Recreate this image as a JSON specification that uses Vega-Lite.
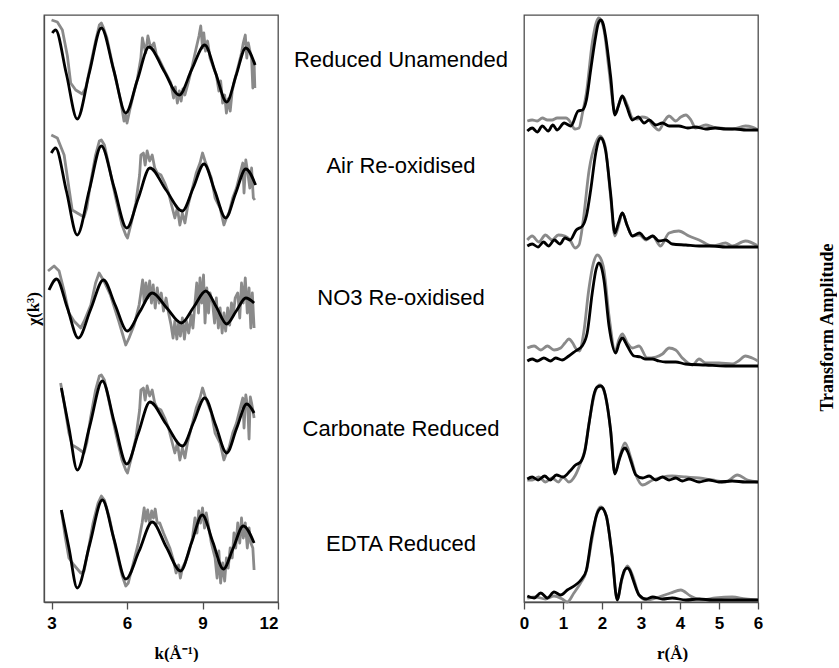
{
"$schema": "https://vega.github.io/schema/vega-lite/v6.json",
"padding": {"left": 23, "top": 11, "right": 0, "bottom": 0},
"autosize": {"type": "pad"},
"spacing": 0,
"bounds": "flush",
"config": {
 "view": {"stroke": "#4d4d4d", "strokeWidth": 1.3},
 "axis": {"domainColor": "#4d4d4d", "domainWidth": 1.3, "tickColor": "#4d4d4d", "tickWidth": 1.3, "grid": false, "labelFont": "Liberation Sans", "labelFontWeight": "bold", "labelFontSize": 17, "labelColor": "#000", "labelOverlap": false, "titleFont": "Liberation Serif", "titleFontWeight": "bold", "titleFontSize": 17, "titleColor": "#000"}
},
"datasets": {
"kf": [
{"s":1,"k":3.03,"y":56.9},{"s":1,"k":3.16,"y":57.2},{"s":1,"k":3.59,"y":52.8},{"s":1,"k":4.02,"y":48.3},{"s":1,"k":4.5,"y":52.9},{"s":1,"k":4.98,"y":57.4},{"s":1,"k":5.47,"y":53.2},{"s":1,"k":5.95,"y":48.9},{"s":1,"k":6.41,"y":52.2},{"s":1,"k":6.87,"y":55.5},{"s":1,"k":7.47,"y":53.1},{"s":1,"k":8.07,"y":50.7},{"s":1,"k":8.58,"y":53.3},{"s":1,"k":9.09,"y":55.7},{"s":1,"k":9.52,"y":52.9},{"s":1,"k":9.96,"y":50.0},{"s":1,"k":10.34,"y":52.7},{"s":1,"k":10.72,"y":55.4},{"s":1,"k":11.09,"y":53.7},
{"s":2,"k":2.99,"y":44.9},{"s":2,"k":3.16,"y":45.4},{"s":2,"k":3.59,"y":41.1},{"s":2,"k":4.02,"y":36.7},{"s":2,"k":4.5,"y":41.2},{"s":2,"k":4.98,"y":45.6},{"s":2,"k":5.48,"y":41.5},{"s":2,"k":5.99,"y":37.4},{"s":2,"k":6.45,"y":40.4},{"s":2,"k":6.91,"y":43.4},{"s":2,"k":7.55,"y":41.2},{"s":2,"k":8.2,"y":39.1},{"s":2,"k":8.63,"y":41.4},{"s":2,"k":9.06,"y":43.8},{"s":2,"k":9.49,"y":41.1},{"s":2,"k":9.92,"y":38.4},{"s":2,"k":10.32,"y":40.9},{"s":2,"k":10.72,"y":43.3},{"s":2,"k":11.11,"y":41.7},
{"s":3,"k":2.9,"y":31.2},{"s":3,"k":3.2,"y":32.3},{"s":3,"k":3.63,"y":29.4},{"s":3,"k":4.06,"y":26.4},{"s":3,"k":4.56,"y":29.3},{"s":3,"k":5.06,"y":32.2},{"s":3,"k":5.53,"y":29.7},{"s":3,"k":6.01,"y":27.1},{"s":3,"k":6.5,"y":29.0},{"s":3,"k":7.0,"y":30.9},{"s":3,"k":7.58,"y":29.4},{"s":3,"k":8.16,"y":27.9},{"s":3,"k":8.65,"y":29.5},{"s":3,"k":9.13,"y":31.1},{"s":3,"k":9.55,"y":29.5},{"s":3,"k":9.96,"y":27.8},{"s":3,"k":10.34,"y":29.1},{"s":3,"k":10.72,"y":30.4},{"s":3,"k":11.05,"y":29.9},
{"s":4,"k":3.39,"y":21.4},{"s":4,"k":3.7,"y":17.3},{"s":4,"k":4.02,"y":13.2},{"s":4,"k":4.52,"y":17.6},{"s":4,"k":5.02,"y":22.1},{"s":4,"k":5.5,"y":17.9},{"s":4,"k":5.99,"y":13.8},{"s":4,"k":6.45,"y":16.9},{"s":4,"k":6.91,"y":20.0},{"s":4,"k":7.55,"y":17.8},{"s":4,"k":8.2,"y":15.6},{"s":4,"k":8.65,"y":18.0},{"s":4,"k":9.09,"y":20.4},{"s":4,"k":9.52,"y":17.7},{"s":4,"k":9.96,"y":14.9},{"s":4,"k":10.36,"y":17.4},{"s":4,"k":10.76,"y":19.8},{"s":4,"k":11.05,"y":18.9},
{"s":5,"k":3.39,"y":9.2},{"s":5,"k":3.7,"y":5.3},{"s":5,"k":4.02,"y":1.4},{"s":5,"k":4.52,"y":5.8},{"s":5,"k":5.02,"y":10.2},{"s":5,"k":5.48,"y":6.3},{"s":5,"k":5.95,"y":2.3},{"s":5,"k":6.48,"y":5.1},{"s":5,"k":7.0,"y":8.0},{"s":5,"k":7.56,"y":5.5},{"s":5,"k":8.13,"y":3.1},{"s":5,"k":8.56,"y":5.9},{"s":5,"k":8.99,"y":8.7},{"s":5,"k":9.41,"y":6.0},{"s":5,"k":9.83,"y":3.3},{"s":5,"k":10.22,"y":5.4},{"s":5,"k":10.62,"y":7.6},{"s":5,"k":11.05,"y":5.9}
],
"kd": [
{"s":1,"k":3.0,"y":58.2},{"s":1,"k":3.23,"y":58.0},{"s":1,"k":3.43,"y":57.2},{"s":1,"k":3.63,"y":54.6},{"s":1,"k":3.76,"y":51.9},{"s":1,"k":3.96,"y":51.2},{"s":1,"k":4.22,"y":50.8},{"s":1,"k":4.36,"y":51.4},{"s":1,"k":4.5,"y":53.1},{"s":1,"k":4.75,"y":56.1},{"s":1,"k":4.9,"y":57.7},{"s":1,"k":4.98,"y":57.9},{"s":1,"k":5.05,"y":57.5},{"s":1,"k":5.2,"y":56.4},{"s":1,"k":5.47,"y":53.2},{"s":1,"k":5.75,"y":50.1},{"s":1,"k":5.88,"y":48.1},{"s":1,"k":5.95,"y":48.7},{"s":1,"k":6.0,"y":47.9},{"s":1,"k":6.1,"y":49.1},{"s":1,"k":6.25,"y":50.7},{"s":1,"k":6.41,"y":52.3},{"s":1,"k":6.55,"y":54.4},{"s":1,"k":6.61,"y":56.4},{"s":1,"k":6.74,"y":54.9},{"s":1,"k":6.83,"y":56.6},{"s":1,"k":6.94,"y":55.4},{"s":1,"k":7.07,"y":55.9},{"s":1,"k":7.17,"y":54.7},{"s":1,"k":7.27,"y":54.3},{"s":1,"k":7.5,"y":53.1},{"s":1,"k":7.74,"y":51.9},{"s":1,"k":7.85,"y":50.4},{"s":1,"k":7.92,"y":51.5},{"s":1,"k":8.0,"y":49.9},{"s":1,"k":8.08,"y":51.1},{"s":1,"k":8.15,"y":50.1},{"s":1,"k":8.22,"y":51.3},{"s":1,"k":8.3,"y":50.7},{"s":1,"k":8.45,"y":52.1},{"s":1,"k":8.6,"y":53.7},{"s":1,"k":8.75,"y":55.4},{"s":1,"k":8.86,"y":56.6},{"s":1,"k":8.93,"y":57.6},{"s":1,"k":9.0,"y":55.4},{"s":1,"k":9.05,"y":56.9},{"s":1,"k":9.12,"y":55.1},{"s":1,"k":9.2,"y":56.1},{"s":1,"k":9.3,"y":54.4},{"s":1,"k":9.4,"y":53.7},{"s":1,"k":9.55,"y":52.7},{"s":1,"k":9.65,"y":51.1},{"s":1,"k":9.72,"y":52.1},{"s":1,"k":9.8,"y":49.9},{"s":1,"k":9.88,"y":50.7},{"s":1,"k":9.95,"y":48.9},{"s":1,"k":10.02,"y":50.3},{"s":1,"k":10.1,"y":49.1},{"s":1,"k":10.18,"y":51.1},{"s":1,"k":10.3,"y":52.4},{"s":1,"k":10.45,"y":53.9},{"s":1,"k":10.55,"y":54.9},{"s":1,"k":10.62,"y":55.9},{"s":1,"k":10.7,"y":56.7},{"s":1,"k":10.76,"y":54.4},{"s":1,"k":10.82,"y":55.9},{"s":1,"k":10.9,"y":54.9},{"s":1,"k":10.95,"y":54.4},{"s":1,"k":11.0,"y":51.4},{"s":1,"k":11.05,"y":53.9},{"s":1,"k":11.08,"y":51.4},
{"s":2,"k":2.99,"y":46.7},{"s":2,"k":3.23,"y":46.4},{"s":2,"k":3.5,"y":44.7},{"s":2,"k":3.69,"y":41.4},{"s":2,"k":3.82,"y":39.2},{"s":2,"k":4.02,"y":38.9},{"s":2,"k":4.29,"y":38.5},{"s":2,"k":4.4,"y":39.4},{"s":2,"k":4.55,"y":41.9},{"s":2,"k":4.75,"y":44.7},{"s":2,"k":4.9,"y":46.1},{"s":2,"k":4.98,"y":46.2},{"s":2,"k":5.1,"y":45.7},{"s":2,"k":5.3,"y":43.4},{"s":2,"k":5.55,"y":40.4},{"s":2,"k":5.8,"y":37.7},{"s":2,"k":5.95,"y":36.7},{"s":2,"k":6.02,"y":36.4},{"s":2,"k":6.15,"y":37.7},{"s":2,"k":6.35,"y":39.9},{"s":2,"k":6.5,"y":42.7},{"s":2,"k":6.55,"y":44.7},{"s":2,"k":6.65,"y":44.9},{"s":2,"k":6.72,"y":43.7},{"s":2,"k":6.8,"y":45.1},{"s":2,"k":6.9,"y":44.1},{"s":2,"k":7.0,"y":44.7},{"s":2,"k":7.1,"y":43.4},{"s":2,"k":7.2,"y":42.9},{"s":2,"k":7.35,"y":42.7},{"s":2,"k":7.5,"y":41.9},{"s":2,"k":7.65,"y":40.9},{"s":2,"k":7.8,"y":39.4},{"s":2,"k":7.9,"y":38.4},{"s":2,"k":8.0,"y":39.4},{"s":2,"k":8.1,"y":37.7},{"s":2,"k":8.2,"y":38.9},{"s":2,"k":8.3,"y":37.9},{"s":2,"k":8.4,"y":39.4},{"s":2,"k":8.55,"y":40.9},{"s":2,"k":8.75,"y":42.9},{"s":2,"k":8.9,"y":43.9},{"s":2,"k":9.0,"y":44.9},{"s":2,"k":9.1,"y":44.1},{"s":2,"k":9.2,"y":43.4},{"s":2,"k":9.35,"y":42.4},{"s":2,"k":9.5,"y":40.4},{"s":2,"k":9.7,"y":39.4},{"s":2,"k":9.85,"y":37.7},{"s":2,"k":9.95,"y":38.4},{"s":2,"k":10.05,"y":38.9},{"s":2,"k":10.2,"y":40.4},{"s":2,"k":10.35,"y":41.4},{"s":2,"k":10.5,"y":42.9},{"s":2,"k":10.6,"y":43.9},{"s":2,"k":10.65,"y":40.9},{"s":2,"k":10.72,"y":44.2},{"s":2,"k":10.8,"y":42.9},{"s":2,"k":10.88,"y":41.4},{"s":2,"k":10.95,"y":43.4},{"s":2,"k":11.02,"y":40.4},{"s":2,"k":11.08,"y":40.2},
{"s":3,"k":2.86,"y":33.1},{"s":3,"k":3.1,"y":33.6},{"s":3,"k":3.3,"y":33.1},{"s":3,"k":3.5,"y":31.1},{"s":3,"k":3.69,"y":28.9},{"s":3,"k":3.89,"y":28.1},{"s":3,"k":4.16,"y":27.4},{"s":3,"k":4.3,"y":28.1},{"s":3,"k":4.56,"y":29.7},{"s":3,"k":4.75,"y":31.9},{"s":3,"k":4.89,"y":32.9},{"s":3,"k":5.08,"y":32.1},{"s":3,"k":5.34,"y":30.7},{"s":3,"k":5.67,"y":28.1},{"s":3,"k":5.95,"y":25.7},{"s":3,"k":6.08,"y":26.4},{"s":3,"k":6.28,"y":27.7},{"s":3,"k":6.48,"y":29.7},{"s":3,"k":6.55,"y":30.9},{"s":3,"k":6.62,"y":32.2},{"s":3,"k":6.68,"y":29.9},{"s":3,"k":6.75,"y":31.9},{"s":3,"k":6.82,"y":30.4},{"s":3,"k":6.9,"y":32.1},{"s":3,"k":6.97,"y":29.9},{"s":3,"k":7.04,"y":31.7},{"s":3,"k":7.12,"y":29.4},{"s":3,"k":7.2,"y":31.4},{"s":3,"k":7.28,"y":29.9},{"s":3,"k":7.36,"y":30.9},{"s":3,"k":7.45,"y":29.1},{"s":3,"k":7.55,"y":30.4},{"s":3,"k":7.65,"y":28.9},{"s":3,"k":7.75,"y":27.7},{"s":3,"k":7.83,"y":26.4},{"s":3,"k":7.9,"y":28.1},{"s":3,"k":7.98,"y":26.3},{"s":3,"k":8.05,"y":27.9},{"s":3,"k":8.12,"y":26.6},{"s":3,"k":8.2,"y":28.4},{"s":3,"k":8.28,"y":26.3},{"s":3,"k":8.36,"y":28.1},{"s":3,"k":8.45,"y":26.9},{"s":3,"k":8.55,"y":28.7},{"s":3,"k":8.62,"y":27.4},{"s":3,"k":8.7,"y":29.9},{"s":3,"k":8.77,"y":31.9},{"s":3,"k":8.84,"y":28.9},{"s":3,"k":8.9,"y":32.4},{"s":3,"k":8.97,"y":29.9},{"s":3,"k":9.04,"y":32.7},{"s":3,"k":9.1,"y":27.9},{"s":3,"k":9.17,"y":31.4},{"s":3,"k":9.24,"y":28.9},{"s":3,"k":9.3,"y":30.9},{"s":3,"k":9.4,"y":29.9},{"s":3,"k":9.48,"y":27.9},{"s":3,"k":9.55,"y":30.4},{"s":3,"k":9.63,"y":27.4},{"s":3,"k":9.7,"y":29.4},{"s":3,"k":9.78,"y":26.9},{"s":3,"k":9.85,"y":28.9},{"s":3,"k":9.92,"y":27.1},{"s":3,"k":10.0,"y":29.4},{"s":3,"k":10.08,"y":27.7},{"s":3,"k":10.15,"y":29.9},{"s":3,"k":10.22,"y":28.7},{"s":3,"k":10.3,"y":30.4},{"s":3,"k":10.4,"y":30.9},{"s":3,"k":10.48,"y":28.4},{"s":3,"k":10.55,"y":31.9},{"s":3,"k":10.62,"y":29.9},{"s":3,"k":10.7,"y":32.4},{"s":3,"k":10.78,"y":28.9},{"s":3,"k":10.85,"y":31.4},{"s":3,"k":10.92,"y":27.4},{"s":3,"k":10.98,"y":30.9},{"s":3,"k":11.05,"y":27.4},
{"s":4,"k":3.36,"y":21.9},{"s":4,"k":3.5,"y":19.9},{"s":4,"k":3.69,"y":16.9},{"s":4,"k":3.82,"y":15.7},{"s":4,"k":4.02,"y":15.4},{"s":4,"k":4.29,"y":14.9},{"s":4,"k":4.4,"y":15.9},{"s":4,"k":4.55,"y":18.4},{"s":4,"k":4.75,"y":21.2},{"s":4,"k":4.9,"y":22.6},{"s":4,"k":4.98,"y":22.7},{"s":4,"k":5.1,"y":22.2},{"s":4,"k":5.3,"y":19.9},{"s":4,"k":5.55,"y":16.9},{"s":4,"k":5.8,"y":14.2},{"s":4,"k":5.95,"y":13.2},{"s":4,"k":6.02,"y":12.9},{"s":4,"k":6.15,"y":14.2},{"s":4,"k":6.35,"y":16.4},{"s":4,"k":6.5,"y":19.2},{"s":4,"k":6.55,"y":21.2},{"s":4,"k":6.65,"y":21.4},{"s":4,"k":6.72,"y":20.2},{"s":4,"k":6.8,"y":21.6},{"s":4,"k":6.9,"y":20.6},{"s":4,"k":7.0,"y":21.2},{"s":4,"k":7.1,"y":19.9},{"s":4,"k":7.2,"y":19.4},{"s":4,"k":7.35,"y":19.2},{"s":4,"k":7.5,"y":18.4},{"s":4,"k":7.65,"y":17.4},{"s":4,"k":7.8,"y":15.9},{"s":4,"k":7.9,"y":14.9},{"s":4,"k":8.0,"y":15.9},{"s":4,"k":8.1,"y":14.2},{"s":4,"k":8.2,"y":15.4},{"s":4,"k":8.3,"y":14.4},{"s":4,"k":8.4,"y":15.9},{"s":4,"k":8.55,"y":17.4},{"s":4,"k":8.75,"y":19.4},{"s":4,"k":8.9,"y":20.4},{"s":4,"k":9.0,"y":21.4},{"s":4,"k":9.1,"y":20.6},{"s":4,"k":9.2,"y":19.9},{"s":4,"k":9.35,"y":18.9},{"s":4,"k":9.5,"y":16.9},{"s":4,"k":9.7,"y":15.9},{"s":4,"k":9.85,"y":14.2},{"s":4,"k":9.95,"y":14.9},{"s":4,"k":10.05,"y":15.4},{"s":4,"k":10.2,"y":16.9},{"s":4,"k":10.35,"y":17.9},{"s":4,"k":10.5,"y":19.4},{"s":4,"k":10.6,"y":20.4},{"s":4,"k":10.65,"y":17.4},{"s":4,"k":10.72,"y":20.7},{"s":4,"k":10.8,"y":19.4},{"s":4,"k":10.85,"y":16.3},{"s":4,"k":10.9,"y":20.5},{"s":4,"k":10.95,"y":19.9},{"s":4,"k":11.02,"y":18.9},{"s":4,"k":11.05,"y":18.4},
{"s":5,"k":3.39,"y":9.2},{"s":5,"k":3.55,"y":6.4},{"s":5,"k":3.69,"y":4.4},{"s":5,"k":3.89,"y":3.7},{"s":5,"k":4.16,"y":2.9},{"s":5,"k":4.29,"y":3.1},{"s":5,"k":4.45,"y":5.1},{"s":5,"k":4.65,"y":7.9},{"s":5,"k":4.85,"y":9.9},{"s":5,"k":4.98,"y":10.6},{"s":5,"k":5.1,"y":10.2},{"s":5,"k":5.3,"y":8.4},{"s":5,"k":5.55,"y":5.4},{"s":5,"k":5.8,"y":2.7},{"s":5,"k":5.95,"y":1.6},{"s":5,"k":6.05,"y":1.9},{"s":5,"k":6.25,"y":3.9},{"s":5,"k":6.45,"y":5.9},{"s":5,"k":6.6,"y":7.9},{"s":5,"k":6.68,"y":9.4},{"s":5,"k":6.75,"y":8.1},{"s":5,"k":6.82,"y":9.2},{"s":5,"k":6.9,"y":7.9},{"s":5,"k":6.98,"y":9.1},{"s":5,"k":7.05,"y":8.4},{"s":5,"k":7.12,"y":9.3},{"s":5,"k":7.2,"y":7.9},{"s":5,"k":7.3,"y":7.9},{"s":5,"k":7.45,"y":6.9},{"s":5,"k":7.7,"y":5.4},{"s":5,"k":7.85,"y":4.1},{"s":5,"k":7.95,"y":2.9},{"s":5,"k":8.05,"y":3.7},{"s":5,"k":8.12,"y":2.4},{"s":5,"k":8.2,"y":3.4},{"s":5,"k":8.3,"y":3.9},{"s":5,"k":8.45,"y":4.9},{"s":5,"k":8.6,"y":6.4},{"s":5,"k":8.7,"y":8.4},{"s":5,"k":8.78,"y":6.9},{"s":5,"k":8.85,"y":9.1},{"s":5,"k":8.92,"y":7.9},{"s":5,"k":9.0,"y":9.4},{"s":5,"k":9.08,"y":7.4},{"s":5,"k":9.15,"y":8.9},{"s":5,"k":9.25,"y":7.4},{"s":5,"k":9.35,"y":5.9},{"s":5,"k":9.5,"y":4.4},{"s":5,"k":9.58,"y":2.4},{"s":5,"k":9.65,"y":5.1},{"s":5,"k":9.72,"y":1.9},{"s":5,"k":9.8,"y":3.9},{"s":5,"k":9.88,"y":2.1},{"s":5,"k":9.95,"y":4.4},{"s":5,"k":10.02,"y":3.4},{"s":5,"k":10.1,"y":5.4},{"s":5,"k":10.18,"y":4.4},{"s":5,"k":10.25,"y":6.9},{"s":5,"k":10.32,"y":5.4},{"s":5,"k":10.4,"y":7.9},{"s":5,"k":10.48,"y":5.9},{"s":5,"k":10.55,"y":8.4},{"s":5,"k":10.62,"y":6.4},{"s":5,"k":10.7,"y":7.9},{"s":5,"k":10.78,"y":5.4},{"s":5,"k":10.85,"y":7.4},{"s":5,"k":10.92,"y":5.9},{"s":5,"k":11.0,"y":5.4},{"s":5,"k":11.05,"y":3.2}
],
"rf": [
{"s":1,"r":0.085,"y":47.1},{"s":1,"r":0.21,"y":47.4},{"s":1,"r":0.34,"y":47.0},{"s":1,"r":0.47,"y":47.6},{"s":1,"r":0.62,"y":47.1},{"s":1,"r":0.74,"y":47.7},{"s":1,"r":0.85,"y":47.2},{"s":1,"r":1.03,"y":47.9},{"s":1,"r":1.2,"y":47.6},{"s":1,"r":1.39,"y":49.1},{"s":1,"r":1.5,"y":49.2},{"s":1,"r":1.6,"y":50.2},{"s":1,"r":1.71,"y":53.2},{"s":1,"r":1.84,"y":56.6},{"s":1,"r":1.9,"y":57.8},{"s":1,"r":1.97,"y":58.2},{"s":1,"r":2.03,"y":57.8},{"s":1,"r":2.09,"y":56.6},{"s":1,"r":2.22,"y":52.6},{"s":1,"r":2.33,"y":48.7},{"s":1,"r":2.42,"y":49.6},{"s":1,"r":2.52,"y":50.6},{"s":1,"r":2.63,"y":49.6},{"s":1,"r":2.78,"y":48.2},{"s":1,"r":2.93,"y":48.5},{"s":1,"r":3.08,"y":47.9},{"s":1,"r":3.21,"y":48.2},{"s":1,"r":3.38,"y":47.7},{"s":1,"r":3.55,"y":47.9},{"s":1,"r":3.72,"y":47.6},{"s":1,"r":3.97,"y":47.6},{"s":1,"r":4.2,"y":47.4},{"s":1,"r":4.4,"y":47.5},{"s":1,"r":4.66,"y":47.3},{"s":1,"r":4.9,"y":47.4},{"s":1,"r":5.17,"y":47.3},{"s":1,"r":5.4,"y":47.3},{"s":1,"r":5.7,"y":47.2},{"s":1,"r":6.0,"y":47.2},
{"s":2,"r":0.085,"y":35.6},{"s":2,"r":0.21,"y":35.8},{"s":2,"r":0.36,"y":35.5},{"s":2,"r":0.5,"y":36.0},{"s":2,"r":0.63,"y":35.6},{"s":2,"r":0.78,"y":36.2},{"s":2,"r":0.92,"y":35.8},{"s":2,"r":1.05,"y":36.4},{"s":2,"r":1.18,"y":36.2},{"s":2,"r":1.34,"y":37.2},{"s":2,"r":1.5,"y":37.6},{"s":2,"r":1.6,"y":38.6},{"s":2,"r":1.71,"y":41.2},{"s":2,"r":1.84,"y":44.9},{"s":2,"r":1.91,"y":46.1},{"s":2,"r":1.97,"y":46.4},{"s":2,"r":2.03,"y":46.1},{"s":2,"r":2.09,"y":45.2},{"s":2,"r":2.22,"y":40.9},{"s":2,"r":2.33,"y":36.9},{"s":2,"r":2.42,"y":37.9},{"s":2,"r":2.52,"y":38.9},{"s":2,"r":2.65,"y":37.6},{"s":2,"r":2.78,"y":36.6},{"s":2,"r":2.96,"y":36.9},{"s":2,"r":3.13,"y":36.3},{"s":2,"r":3.3,"y":36.6},{"s":2,"r":3.46,"y":36.1},{"s":2,"r":3.63,"y":36.2},{"s":2,"r":3.8,"y":35.8},{"s":2,"r":4.15,"y":35.7},{"s":2,"r":4.49,"y":35.6},{"s":2,"r":4.83,"y":35.6},{"s":2,"r":5.17,"y":35.5},{"s":2,"r":5.6,"y":35.5},{"s":2,"r":6.0,"y":35.5},
{"s":3,"r":0.085,"y":24.1},{"s":3,"r":0.21,"y":24.3},{"s":3,"r":0.34,"y":24.1},{"s":3,"r":0.51,"y":24.4},{"s":3,"r":0.68,"y":24.1},{"s":3,"r":0.81,"y":24.4},{"s":3,"r":0.98,"y":24.2},{"s":3,"r":1.15,"y":24.6},{"s":3,"r":1.32,"y":25.1},{"s":3,"r":1.49,"y":25.6},{"s":3,"r":1.62,"y":26.9},{"s":3,"r":1.75,"y":30.9},{"s":3,"r":1.85,"y":33.3},{"s":3,"r":1.92,"y":33.9},{"s":3,"r":1.99,"y":33.4},{"s":3,"r":2.05,"y":32.2},{"s":3,"r":2.18,"y":27.6},{"s":3,"r":2.35,"y":24.9},{"s":3,"r":2.44,"y":25.9},{"s":3,"r":2.52,"y":26.4},{"s":3,"r":2.65,"y":25.6},{"s":3,"r":2.82,"y":24.6},{"s":3,"r":2.99,"y":24.5},{"s":3,"r":3.12,"y":24.3},{"s":3,"r":3.29,"y":24.3},{"s":3,"r":3.46,"y":24.1},{"s":3,"r":3.63,"y":24.0},{"s":3,"r":3.89,"y":24.0},{"s":3,"r":4.14,"y":23.8},{"s":3,"r":4.66,"y":23.7},{"s":3,"r":5.17,"y":23.6},{"s":3,"r":5.68,"y":23.6},{"s":3,"r":6.0,"y":23.6},
{"s":4,"r":0.085,"y":12.3},{"s":4,"r":0.21,"y":12.5},{"s":4,"r":0.36,"y":12.2},{"s":4,"r":0.53,"y":12.6},{"s":4,"r":0.67,"y":12.2},{"s":4,"r":0.83,"y":12.7},{"s":4,"r":1.0,"y":12.5},{"s":4,"r":1.18,"y":13.1},{"s":4,"r":1.32,"y":13.7},{"s":4,"r":1.45,"y":14.0},{"s":4,"r":1.56,"y":15.1},{"s":4,"r":1.67,"y":17.9},{"s":4,"r":1.79,"y":20.7},{"s":4,"r":1.88,"y":21.5},{"s":4,"r":1.97,"y":21.6},{"s":4,"r":2.03,"y":21.4},{"s":4,"r":2.09,"y":20.6},{"s":4,"r":2.22,"y":17.2},{"s":4,"r":2.33,"y":12.8},{"s":4,"r":2.44,"y":14.2},{"s":4,"r":2.52,"y":15.1},{"s":4,"r":2.59,"y":15.4},{"s":4,"r":2.66,"y":15.0},{"s":4,"r":2.74,"y":14.1},{"s":4,"r":2.87,"y":12.7},{"s":4,"r":3.04,"y":12.4},{"s":4,"r":3.21,"y":12.6},{"s":4,"r":3.38,"y":12.2},{"s":4,"r":3.55,"y":12.5},{"s":4,"r":3.72,"y":12.2},{"s":4,"r":3.89,"y":12.4},{"s":4,"r":4.06,"y":12.1},{"s":4,"r":4.23,"y":12.3},{"s":4,"r":4.49,"y":12.0},{"s":4,"r":4.74,"y":12.2},{"s":4,"r":5.0,"y":12.0},{"s":4,"r":5.34,"y":12.1},{"s":4,"r":5.68,"y":12.0},{"s":4,"r":6.0,"y":12.0},
{"s":5,"r":0.085,"y":0.6},{"s":5,"r":0.26,"y":0.4},{"s":5,"r":0.43,"y":0.9},{"s":5,"r":0.6,"y":0.4},{"s":5,"r":0.77,"y":1.0},{"s":5,"r":0.94,"y":0.7},{"s":5,"r":1.11,"y":1.2},{"s":5,"r":1.32,"y":1.7},{"s":5,"r":1.48,"y":2.3},{"s":5,"r":1.6,"y":3.2},{"s":5,"r":1.74,"y":6.6},{"s":5,"r":1.88,"y":8.9},{"s":5,"r":1.99,"y":9.4},{"s":5,"r":2.11,"y":8.6},{"s":5,"r":2.26,"y":4.6},{"s":5,"r":2.39,"y":0.2},{"s":5,"r":2.5,"y":2.2},{"s":5,"r":2.58,"y":3.2},{"s":5,"r":2.65,"y":3.4},{"s":5,"r":2.72,"y":3.1},{"s":5,"r":2.8,"y":2.2},{"s":5,"r":2.95,"y":0.7},{"s":5,"r":3.13,"y":0.3},{"s":5,"r":3.3,"y":0.5},{"s":5,"r":3.55,"y":0.3},{"s":5,"r":3.8,"y":0.4},{"s":5,"r":4.15,"y":0.2},{"s":5,"r":4.49,"y":0.3},{"s":5,"r":4.83,"y":0.2},{"s":5,"r":5.34,"y":0.2},{"s":5,"r":6.0,"y":0.2}
],
"rd": [
{"s":1,"r":0.085,"y":48.1},{"s":1,"r":0.21,"y":48.2},{"s":1,"r":0.34,"y":48.1},{"s":1,"r":0.47,"y":48.4},{"s":1,"r":0.6,"y":48.2},{"s":1,"r":0.72,"y":48.2},{"s":1,"r":0.85,"y":48.4},{"s":1,"r":0.97,"y":48.4},{"s":1,"r":1.08,"y":48.4},{"s":1,"r":1.15,"y":48.2},{"s":1,"r":1.31,"y":47.3},{"s":1,"r":1.41,"y":47.4},{"s":1,"r":1.5,"y":48.9},{"s":1,"r":1.6,"y":50.9},{"s":1,"r":1.75,"y":55.9},{"s":1,"r":1.85,"y":57.9},{"s":1,"r":1.92,"y":58.4},{"s":1,"r":2.05,"y":57.2},{"s":1,"r":2.18,"y":53.2},{"s":1,"r":2.31,"y":49.2},{"s":1,"r":2.36,"y":48.9},{"s":1,"r":2.44,"y":49.9},{"s":1,"r":2.52,"y":50.6},{"s":1,"r":2.65,"y":49.7},{"s":1,"r":2.78,"y":48.4},{"s":1,"r":2.9,"y":48.3},{"s":1,"r":3.03,"y":48.5},{"s":1,"r":3.16,"y":48.4},{"s":1,"r":3.3,"y":47.7},{"s":1,"r":3.46,"y":47.2},{"s":1,"r":3.6,"y":48.1},{"s":1,"r":3.72,"y":48.6},{"s":1,"r":3.89,"y":48.1},{"s":1,"r":4.02,"y":48.5},{"s":1,"r":4.15,"y":48.7},{"s":1,"r":4.28,"y":48.2},{"s":1,"r":4.4,"y":47.4},{"s":1,"r":4.66,"y":47.7},{"s":1,"r":4.85,"y":47.5},{"s":1,"r":5.0,"y":47.4},{"s":1,"r":5.34,"y":47.3},{"s":1,"r":5.68,"y":47.6},{"s":1,"r":5.85,"y":47.5},{"s":1,"r":6.0,"y":47.2},
{"s":2,"r":0.085,"y":36.2},{"s":2,"r":0.21,"y":36.6},{"s":2,"r":0.38,"y":36.0},{"s":2,"r":0.55,"y":36.7},{"s":2,"r":0.72,"y":36.2},{"s":2,"r":0.88,"y":36.7},{"s":2,"r":1.05,"y":36.6},{"s":2,"r":1.18,"y":36.2},{"s":2,"r":1.31,"y":35.4},{"s":2,"r":1.41,"y":35.7},{"s":2,"r":1.52,"y":38.2},{"s":2,"r":1.67,"y":43.2},{"s":2,"r":1.84,"y":45.9},{"s":2,"r":1.95,"y":46.6},{"s":2,"r":2.08,"y":45.6},{"s":2,"r":2.22,"y":40.6},{"s":2,"r":2.33,"y":36.6},{"s":2,"r":2.44,"y":37.9},{"s":2,"r":2.52,"y":38.9},{"s":2,"r":2.65,"y":37.6},{"s":2,"r":2.78,"y":36.6},{"s":2,"r":2.96,"y":36.7},{"s":2,"r":3.13,"y":36.2},{"s":2,"r":3.3,"y":36.6},{"s":2,"r":3.5,"y":35.6},{"s":2,"r":3.72,"y":36.9},{"s":2,"r":3.97,"y":37.1},{"s":2,"r":4.23,"y":36.6},{"s":2,"r":4.49,"y":36.2},{"s":2,"r":4.83,"y":35.6},{"s":2,"r":5.17,"y":35.9},{"s":2,"r":5.34,"y":35.6},{"s":2,"r":5.68,"y":36.1},{"s":2,"r":6.0,"y":35.6},
{"s":3,"r":0.085,"y":25.4},{"s":3,"r":0.26,"y":25.6},{"s":3,"r":0.43,"y":25.2},{"s":3,"r":0.6,"y":25.6},{"s":3,"r":0.77,"y":25.2},{"s":3,"r":0.94,"y":25.4},{"s":3,"r":1.05,"y":25.9},{"s":3,"r":1.15,"y":26.3},{"s":3,"r":1.25,"y":25.9},{"s":3,"r":1.32,"y":25.4},{"s":3,"r":1.42,"y":25.1},{"s":3,"r":1.53,"y":26.9},{"s":3,"r":1.66,"y":31.2},{"s":3,"r":1.78,"y":33.9},{"s":3,"r":1.88,"y":34.7},{"s":3,"r":1.96,"y":34.4},{"s":3,"r":2.05,"y":33.2},{"s":3,"r":2.18,"y":28.6},{"s":3,"r":2.34,"y":25.1},{"s":3,"r":2.43,"y":26.2},{"s":3,"r":2.52,"y":26.8},{"s":3,"r":2.65,"y":25.9},{"s":3,"r":2.78,"y":25.4},{"s":3,"r":2.95,"y":25.6},{"s":3,"r":3.16,"y":24.4},{"s":3,"r":3.38,"y":24.5},{"s":3,"r":3.55,"y":24.8},{"s":3,"r":3.72,"y":25.4},{"s":3,"r":3.89,"y":25.2},{"s":3,"r":4.06,"y":24.4},{"s":3,"r":4.32,"y":23.7},{"s":3,"r":4.49,"y":24.3},{"s":3,"r":4.66,"y":23.9},{"s":3,"r":5.0,"y":23.9},{"s":3,"r":5.34,"y":23.8},{"s":3,"r":5.5,"y":24.1},{"s":3,"r":5.68,"y":24.6},{"s":3,"r":5.85,"y":24.4},{"s":3,"r":6.0,"y":24.1},
{"s":4,"r":0.085,"y":12.2},{"s":4,"r":0.21,"y":12.2},{"s":4,"r":0.38,"y":12.5},{"s":4,"r":0.55,"y":12.0},{"s":4,"r":0.72,"y":12.4},{"s":4,"r":0.88,"y":12.0},{"s":4,"r":1.0,"y":12.5},{"s":4,"r":1.15,"y":12.0},{"s":4,"r":1.32,"y":12.7},{"s":4,"r":1.45,"y":13.9},{"s":4,"r":1.56,"y":15.2},{"s":4,"r":1.68,"y":18.2},{"s":4,"r":1.84,"y":21.2},{"s":4,"r":1.95,"y":21.7},{"s":4,"r":2.08,"y":20.7},{"s":4,"r":2.22,"y":17.2},{"s":4,"r":2.33,"y":12.9},{"s":4,"r":2.46,"y":14.6},{"s":4,"r":2.59,"y":15.9},{"s":4,"r":2.74,"y":14.4},{"s":4,"r":2.87,"y":12.7},{"s":4,"r":3.04,"y":11.7},{"s":4,"r":3.3,"y":12.2},{"s":4,"r":3.55,"y":12.5},{"s":4,"r":3.8,"y":12.6},{"s":4,"r":4.15,"y":12.5},{"s":4,"r":4.49,"y":12.4},{"s":4,"r":4.83,"y":12.2},{"s":4,"r":5.17,"y":12.0},{"s":4,"r":5.47,"y":12.7},{"s":4,"r":5.73,"y":12.2},{"s":4,"r":6.0,"y":12.0},
{"s":5,"r":0.085,"y":0.4},{"s":5,"r":0.3,"y":0.5},{"s":5,"r":0.55,"y":0.3},{"s":5,"r":0.77,"y":0.6},{"s":5,"r":0.98,"y":0.3},{"s":5,"r":1.11,"y":0.0},{"s":5,"r":1.28,"y":0.9},{"s":5,"r":1.45,"y":1.9},{"s":5,"r":1.6,"y":3.1},{"s":5,"r":1.74,"y":6.2},{"s":5,"r":1.88,"y":9.0},{"s":5,"r":1.97,"y":9.5},{"s":5,"r":2.11,"y":8.6},{"s":5,"r":2.26,"y":4.6},{"s":5,"r":2.39,"y":0.3},{"s":5,"r":2.52,"y":2.4},{"s":5,"r":2.65,"y":3.6},{"s":5,"r":2.78,"y":2.7},{"s":5,"r":2.95,"y":0.7},{"s":5,"r":3.13,"y":0.2},{"s":5,"r":3.46,"y":0.5},{"s":5,"r":3.76,"y":0.9},{"s":5,"r":4.02,"y":1.2},{"s":5,"r":4.27,"y":0.6},{"s":5,"r":4.57,"y":0.2},{"s":5,"r":4.91,"y":0.4},{"s":5,"r":5.34,"y":0.5},{"s":5,"r":5.68,"y":0.3},{"s":5,"r":6.0,"y":0.2}
],
"lab": [
{"label":"Reduced Unamended","y":54.2},{"label":"Air Re-oxidised","y":43.6},{"label":"NO3 Re-oxidised","y":30.4},{"label":"Carbonate Reduced","y":17.3},{"label":"EDTA Reduced","y":5.8}
]
},
"hconcat": [
{
 "width": 234, "height": 587,
 "layer": [
  {"data": {"name": "kd"}, "mark": {"type": "line", "color": "#8a8a8a", "strokeWidth": 2.8, "strokeJoin": "round"},
   "encoding": {
    "x": {"field": "k", "type": "quantitative", "scale": {"domain": [2.7, 12], "nice": false, "zero": false}, "axis": {"values": [3, 6, 9, 12], "title": "k(Å⁻¹)", "tickSize": 7, "labelPadding": 6, "titlePadding": 14, "titleX": 132, "labelOverlap": false}},
    "y": {"field": "y", "type": "quantitative", "scale": {"domain": [0, 58.7], "nice": false, "zero": false}, "axis": {"title": "χ(k³)", "labels": false, "ticks": false, "titlePadding": 2}},
    "detail": {"field": "s", "type": "nominal"}
   }},
  {"data": {"name": "kf"}, "mark": {"type": "line", "color": "#000000", "strokeWidth": 2.8, "interpolate": "monotone"},
   "encoding": {
    "x": {"field": "k", "type": "quantitative"},
    "y": {"field": "y", "type": "quantitative"},
    "detail": {"field": "s", "type": "nominal"}
   }}
 ]
},
{
 "width": 246, "height": 587,
 "view": {"stroke": null},
 "data": {"name": "lab"},
 "mark": {"type": "text", "font": "Liberation Sans", "fontSize": 22, "align": "center", "baseline": "middle", "color": "#000"},
 "encoding": {
  "y": {"field": "y", "type": "quantitative", "scale": {"domain": [0, 58.7], "nice": false, "zero": false}, "axis": null},
  "text": {"field": "label", "type": "nominal"}
 }
},
{
 "width": 234, "height": 587,
 "layer": [
  {"data": {"name": "rd"}, "mark": {"type": "line", "color": "#8a8a8a", "strokeWidth": 2.8, "interpolate": "monotone"},
   "encoding": {
    "x": {"field": "r", "type": "quantitative", "scale": {"domain": [0, 6], "nice": false, "zero": false}, "axis": {"values": [0, 1, 2, 3, 4, 5, 6], "tickCount": 7, "labelOverlap": false, "labelFlush": false, "title": "r(Å)", "tickSize": 7, "labelPadding": 6, "titlePadding": 14, "titleX": 148}},
    "y": {"field": "y", "type": "quantitative", "scale": {"domain": [0, 58.7], "nice": false, "zero": false}, "axis": {"orient": "right", "title": "Transform Amplitude", "labels": false, "ticks": false, "domain": false, "titleAngle": 270, "titleBaseline": "middle", "titlePadding": 69, "titleY": 312, "titleFontSize": 18}},
    "detail": {"field": "s", "type": "nominal"}
   }},
  {"data": {"name": "rf"}, "mark": {"type": "line", "color": "#000000", "strokeWidth": 2.8, "interpolate": "monotone"},
   "encoding": {
    "x": {"field": "r", "type": "quantitative", "axis": {"values": [0, 1, 2, 3, 4, 5, 6], "labelOverlap": false, "title": "r(Å)", "tickSize": 7, "labelPadding": 6, "titlePadding": 14, "titleX": 148}},
    "y": {"field": "y", "type": "quantitative"},
    "detail": {"field": "s", "type": "nominal"}
   }}
 ]
}
]
}
